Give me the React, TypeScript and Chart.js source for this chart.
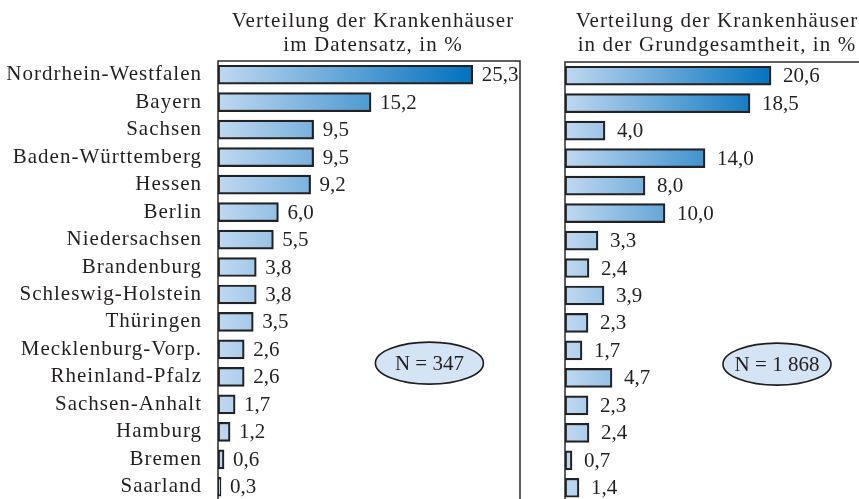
import React, { useEffect, useRef } from "react";
import { Chart, registerables } from "chart.js";

Chart.register(...registerables);

const categories = [
  "Nordrhein-Westfalen",
  "Bayern",
  "Sachsen",
  "Baden-Württemberg",
  "Hessen",
  "Berlin",
  "Niedersachsen",
  "Brandenburg",
  "Schleswig-Holstein",
  "Thüringen",
  "Mecklenburg-Vorp.",
  "Rheinland-Pfalz",
  "Sachsen-Anhalt",
  "Hamburg",
  "Bremen",
  "Saarland",
];
const datensatz = [25.3, 15.2, 9.5, 9.5, 9.2, 6.0, 5.5, 3.8, 3.8, 3.5, 2.6, 2.6, 1.7, 1.2, 0.6, 0.3];
const grundgesamtheit = [20.6, 18.5, 4.0, 14.0, 8.0, 10.0, 3.3, 2.4, 3.9, 2.3, 1.7, 4.7, 2.3, 2.4, 0.7, 1.4];
const titleLeft = ["Verteilung der Krankenhäuser", "im Datensatz, in %"];
const titleRight = ["Verteilung der Krankenhäuser", "in der Grundgesamtheit, in %"];
const nLeft = "N = 347";
const nRight = "N = 1 868";

const FONT = "'Liberation Serif', 'Times New Roman', serif";
const TEXT = "#231f20";

const fmt = (v: number) => v.toFixed(1).replace(".", ",");

function makeConfig(values: number[], opts: any): any {
  const gradient = (ctx: any) => {
    const chart = ctx.chart;
    const x = chart.scales && chart.scales.x;
    if (!chart.chartArea || !x) return "#6aa6dc";
    const x0 = x.getPixelForValue(0);
    const x1 = x.getPixelForValue(opts.gradEnd);
    const g = chart.ctx.createLinearGradient(x0, 0, x1, 0);
    g.addColorStop(0, "#c0d8f1");
    g.addColorStop(1, "#0070bd");
    return g;
  };

  const plugin = {
    id: "decor",
    beforeDraw(chart: any) {
      (chart.ctx as any).letterSpacing = "1px";
    },
    beforeDatasetsDraw(chart: any) {
      const { ctx, chartArea } = chart;
      (ctx as any).letterSpacing = "0px";
      ctx.save();
      ctx.strokeStyle = "#2b2b2b";
      ctx.lineWidth = 1.5;
      ctx.beginPath();
      ctx.moveTo(chartArea.left, chartArea.bottom + 5);
      ctx.lineTo(chartArea.left, chartArea.top);
      ctx.lineTo(chartArea.right, chartArea.top);
      ctx.lineTo(chartArea.right, chartArea.bottom + 5);
      ctx.stroke();
      ctx.restore();
    },
    afterDatasetsDraw(chart: any) {
      const { ctx, chartArea } = chart;
      const meta = chart.getDatasetMeta(0);
      ctx.save();
      (ctx as any).letterSpacing = "0px";
      ctx.fillStyle = TEXT;
      ctx.font = `${opts.valueSize}px ${FONT}`;
      ctx.textAlign = "left";
      ctx.textBaseline = "middle";
      meta.data.forEach((el: any, i: number) => {
        ctx.fillText(fmt(values[i]), el.x + opts.gap, el.y + 1);
      });
      // titles
      ctx.textAlign = "center";
      ctx.textBaseline = "alphabetic";
      ctx.font = `${opts.titleSize}px ${FONT}`;
      (ctx as any).letterSpacing = "1.1px";
      const cx = (chartArea.left + chartArea.right) / 2;
      opts.title.forEach((line: string, i: number) => {
        ctx.fillText(line, cx + opts.titleShift, 27 + i * 23.5);
      });
      (ctx as any).letterSpacing = "0px";
      // N ellipse
      const ex = chart.scales.x.getPixelForValue(opts.ellipseX);
      const ey = chart.scales.y.getPixelForValue(10.5);
      ctx.beginPath();
      ctx.ellipse(ex, ey, 54, 21, 0, 0, Math.PI * 2);
      ctx.fillStyle = "#d4e4f5";
      ctx.fill();
      ctx.lineWidth = 1.6;
      ctx.strokeStyle = "#1e1e1e";
      ctx.stroke();
      ctx.fillStyle = TEXT;
      ctx.font = `${opts.valueSize}px ${FONT}`;
      ctx.textBaseline = "middle";
      ctx.fillText(opts.nText, ex, ey + 1);
      ctx.restore();
    },
  };

  return {
    type: "bar",
    data: {
      labels: categories,
      datasets: [
        {
          data: values,
          backgroundColor: gradient,
          borderColor: "#222222",
          borderWidth: 2.2,
          borderSkipped: false,
          barThickness: 19,
        },
      ],
    },
    options: {
      indexAxis: "y",
      animation: false,
      responsive: false,
      maintainAspectRatio: false,
      layout: { padding: opts.padding },
      plugins: { legend: { display: false }, tooltip: { enabled: false }, title: { display: false } },
      scales: {
        x: { display: false, min: 0, max: 30 },
        y: {
          display: opts.showLabels,
          grid: { display: false },
          border: { display: false },
          ticks: {
            color: TEXT,
            font: { family: FONT, size: 21 },
            padding: 8,
            autoSkip: false,
          },
          afterFit: (s: any) => {
            if (opts.showLabels) s.width = opts.axisWidth;
            s.paddingTop = 0;
            s.paddingBottom = 0;
          },
        },
      },
    },
    plugins: [plugin],
  };
}

function BarPanel(props: { values: number[]; opts: any; style: any; width: number; height: number }) {
  const ref = useRef<HTMLCanvasElement>(null);
  useEffect(() => {
    const chart = new Chart(ref.current as HTMLCanvasElement, makeConfig(props.values, props.opts));
    return () => chart.destroy();
  }, []);
  return (
    <canvas
      ref={ref}
      width={props.width}
      height={props.height}
      style={{ position: "absolute", width: props.width, height: props.height, ...props.style }}
    />
  );
}

export default function App() {
  return (
    <div
      style={{
        position: "absolute",
        left: 0,
        top: 0,
        width: 859,
        height: 499,
        overflow: "hidden",
        background: "#ffffff",
      }}
    >
      <BarPanel
        values={datensatz}
        width={530}
        height={510}
        style={{ left: 0, top: 0 }}
        opts={{
          showLabels: true,
          axisWidth: 218,
          padding: { left: 0, right: 10, top: 61, bottom: 9.5 },
          gradEnd: 25.5,
          gap: 9,
          valueSize: 21,
          titleSize: 21,
          titleShift: 4,
          title: titleLeft,
          ellipseX: 21,
          nText: nLeft,
        }}
      />
      <BarPanel
        values={grundgesamtheit}
        width={340}
        height={510}
        style={{ left: 540, top: 0 }}
        opts={{
          showLabels: false,
          axisWidth: 0,
          padding: { left: 25, right: 15, top: 62, bottom: 8.5 },
          gradEnd: 21,
          gap: 12,
          valueSize: 21,
          titleSize: 21,
          titleShift: 2,
          title: titleRight,
          ellipseX: 21.2,
          nText: nRight,
        }}
      />
    </div>
  );
}
